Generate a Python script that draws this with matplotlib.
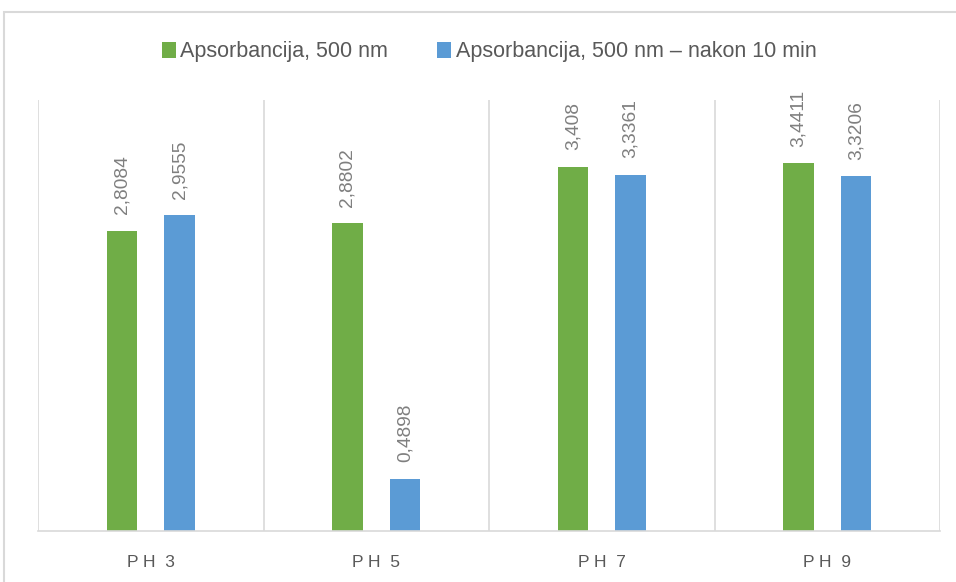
import numpy as np
import matplotlib
matplotlib.use("Agg")
import matplotlib.pyplot as plt
from matplotlib.patches import Rectangle

plt.rcParams['font.family'] = ['Liberation Sans', 'DejaVu Sans']

categories = ["PH 3", "PH 5", "PH 7", "PH 9"]
series_names = ["Apsorbancija, 500 nm", "Apsorbancija, 500 nm – nakon 10 min"]
green_vals = [2.8084, 2.8802, 3.408, 3.4411]
blue_vals = [2.9555, 0.4898, 3.3361, 3.3206]
green_labels = ["2,8084", "2,8802", "3,408", "3,4411"]
blue_labels = ["2,9555", "0,4898", "3,3361", "3,3206"]

green = "#70AD47"
blue = "#5B9BD5"
grid_col = "#D9D9D9"
text_col = "#595959"
label_col = "#7F7F7F"

fig = plt.figure(figsize=(9.56, 5.82), dpi=100)
ax = fig.add_axes([38/956, 1 - 531/582, (940-38)/956, (531-100)/582])

x = np.arange(len(categories))
w = 0.135
off = 0.128
b1 = ax.bar(x - off, green_vals, w, color=green, label=series_names[0])
b2 = ax.bar(x + off, blue_vals, w, color=blue, label=series_names[1])

for bars, labs in [(b1, green_labels), (b2, blue_labels)]:
    for bar, lab in zip(bars, labs):
        ax.annotate(lab, (bar.get_x() + bar.get_width()/2, bar.get_height()),
                    xytext=(0, 12), textcoords="offset points",
                    rotation=90, ha="center", va="bottom",
                    fontsize=13.8, color=label_col)

ax.set_xlim(-0.5, len(categories) - 0.5)
ax.set_ylim(0, 4.035)

# category separators
for b in np.arange(-0.5, len(categories), 1.0):
    ax.axvline(b, color=grid_col, lw=1.2, zorder=0)

for s in ["top", "right", "left"]:
    ax.spines[s].set_visible(False)
ax.spines["bottom"].set_color(grid_col)
ax.spines["bottom"].set_linewidth(1.2)
ax.set_yticks([])
ax.set_xticks(x)
tick_text = [" ".join(c.split()[0]) + "  " + c.split()[1] for c in categories]
ax.set_xticklabels(tick_text, fontsize=12.5, color=text_col)
ax.tick_params(axis="x", length=0, pad=17)

fig.legend(loc="center", bbox_to_anchor=((38+940)/2/956, 1 - 52/582),
           ncol=2, frameon=False, fontsize=15.5, handlelength=0.65, handleheight=0.75,
           handletextpad=0.2, columnspacing=2.3, labelcolor=text_col)

# outer chart border
fig.patches.append(Rectangle((4/956, -0.1), 1.2, 1 - 12/582 + 0.1,
                             transform=fig.transFigure, fill=False,
                             edgecolor=grid_col, lw=1.5))

fig.savefig("out.png", dpi=100)
